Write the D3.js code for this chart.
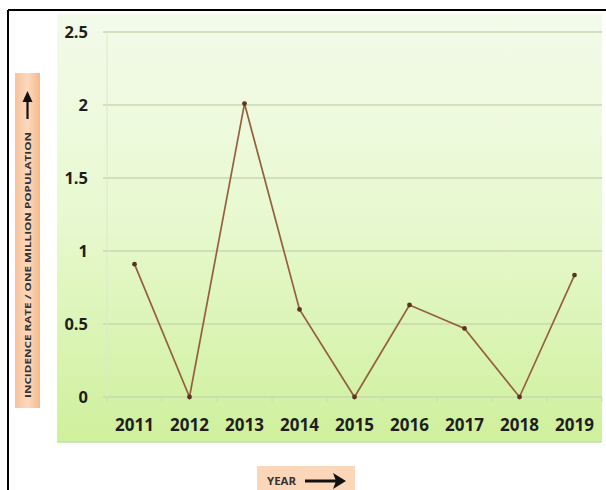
<!DOCTYPE html>
<html><head><meta charset="utf-8">
<script src="https://cdn.jsdelivr.net/npm/d3@7"></script>
<style>body{margin:0;background:#fff}svg{display:block}</style>
</head><body>
<script>
const years = ["2011","2012","2013","2014","2015","2016","2017","2018","2019"];
const rates = [0.91, 0, 2.01, 0.60, 0, 0.63, 0.47, 0, 0.835];
const yTicks = [0, 0.5, 1, 1.5, 2, 2.5];
const yTickLabels = ["0","0.5","1","1.5","2","2.5"];

const W = 606, H = 490;
const svg = d3.select("body").append("svg").attr("width", W).attr("height", H);
const defs = svg.append("defs");
const g1 = defs.append("linearGradient").attr("id","bg").attr("x1",0).attr("y1",0).attr("x2",0).attr("y2",1);
g1.append("stop").attr("offset","0%").attr("stop-color","#f3faea");
g1.append("stop").attr("offset","45%").attr("stop-color","#e9f9d2");
g1.append("stop").attr("offset","100%").attr("stop-color","#cff09c");
const g2 = defs.append("linearGradient").attr("id","lab").attr("x1",0).attr("y1",0).attr("x2",1).attr("y2",0);
g2.append("stop").attr("offset","0%").attr("stop-color","#f7c29c");
g2.append("stop").attr("offset","50%").attr("stop-color","#fcd9bd");
g2.append("stop").attr("offset","100%").attr("stop-color","#f5b98f");

// outer borders
svg.append("line").attr("x1",8).attr("x2",W).attr("y1",10).attr("y2",10).attr("stroke","#000").attr("stroke-width",2);
svg.append("line").attr("x1",8).attr("x2",8).attr("y1",10).attr("y2",H).attr("stroke","#000").attr("stroke-width",2);

// plot area background
svg.append("rect").attr("x",57).attr("y",14).attr("width",545).attr("height",428).attr("fill","url(#bg)");
svg.append("line").attr("x1",57).attr("x2",602).attr("y1",442).attr("y2",442).attr("stroke","#c4dcaa").attr("stroke-width",1.5);

const x = d3.scaleBand().domain(years).range([107, 602]);
const y = d3.scaleLinear().domain([0, 2.5]).range([397, 32]);

// gridlines
svg.append("g").selectAll("line").data(yTicks).join("line")
  .attr("x1",103).attr("x2",602).attr("y1",d=>y(d)).attr("y2",d=>y(d))
  .attr("stroke","#c6d9b2").attr("stroke-width",1.3);
svg.append("line").attr("x1",107).attr("x2",107).attr("y1",y(2.5)).attr("y2",y(0)).attr("stroke","#dbe9cc");

// minor x ticks at band edges
svg.append("g").selectAll("line").data(years.concat(["end"])).join("line")
  .attr("x1",(d,i)=>107+i*x.step()).attr("x2",(d,i)=>107+i*x.step())
  .attr("y1",y(0)).attr("y2",y(0)+5).attr("stroke","#cadcb8");

const fontFam = "Open Sans, sans-serif";
// y tick labels
svg.append("g").selectAll("text").data(yTicks).join("text")
  .attr("x",88).attr("y",d=>y(d)).attr("dy","0.35em").attr("text-anchor","end")
  .attr("font-family",fontFam).attr("font-weight","bold").attr("font-size",16.5)
  .attr("fill","#1e1e1e").text((d,i)=>yTickLabels[i]);

// x tick labels
svg.append("g").selectAll("text").data(years).join("text")
  .attr("x",d=>x(d)+x.bandwidth()/2).attr("y",425).attr("dy","0.35em").attr("text-anchor","middle")
  .attr("font-family",fontFam).attr("font-weight","bold").attr("font-size",17)
  .attr("fill","#1e1e1e").text(d=>d);

// line
const line = d3.line().x((d,i)=>x(years[i])+x.bandwidth()/2).y(d=>y(d));
svg.append("path").datum(rates).attr("d",line).attr("fill","none").attr("stroke","#94603f").attr("stroke-width",1.7);
svg.append("g").selectAll("circle").data(rates).join("circle")
  .attr("cx",(d,i)=>x(years[i])+x.bandwidth()/2).attr("cy",d=>y(d)).attr("r",2.4).attr("fill","#5a3420");

// y label box
svg.append("rect").attr("x",15).attr("y",73).attr("width",25).attr("height",335).attr("fill","url(#lab)");
svg.append("text").attr("transform","translate(31,265) rotate(-90)").attr("text-anchor","middle")
  .attr("font-family",fontFam).attr("font-weight","bold").attr("font-size",9.5).attr("fill","#333")
  .attr("textLength",266).attr("lengthAdjust","spacingAndGlyphs")
  .text("INCIDENCE RATE / ONE MILLION POPULATION");
// up arrow
svg.append("line").attr("x1",27.5).attr("x2",27.5).attr("y1",119).attr("y2",98).attr("stroke","#111").attr("stroke-width",2.2);
svg.append("path").attr("d","M22.5,102 L27.5,91 L32.5,102 Z").attr("fill","#111");

// x label box
svg.append("rect").attr("x",257).attr("y",466).attr("width",98).attr("height",28).attr("fill","#fcd6b8");
svg.append("text").attr("x",267).attr("y",481).attr("dy","0.35em")
  .attr("font-family",fontFam).attr("font-weight","bold").attr("font-size",10).attr("fill","#333")
  .attr("textLength",29).attr("lengthAdjust","spacingAndGlyphs").text("YEAR");
svg.append("line").attr("x1",305).attr("x2",336).attr("y1",481).attr("y2",481).attr("stroke","#111").attr("stroke-width",3);
svg.append("path").attr("d","M333,473 L346,481 L333,489 L336,481 Z").attr("fill","#111");
</script>
</body></html>
